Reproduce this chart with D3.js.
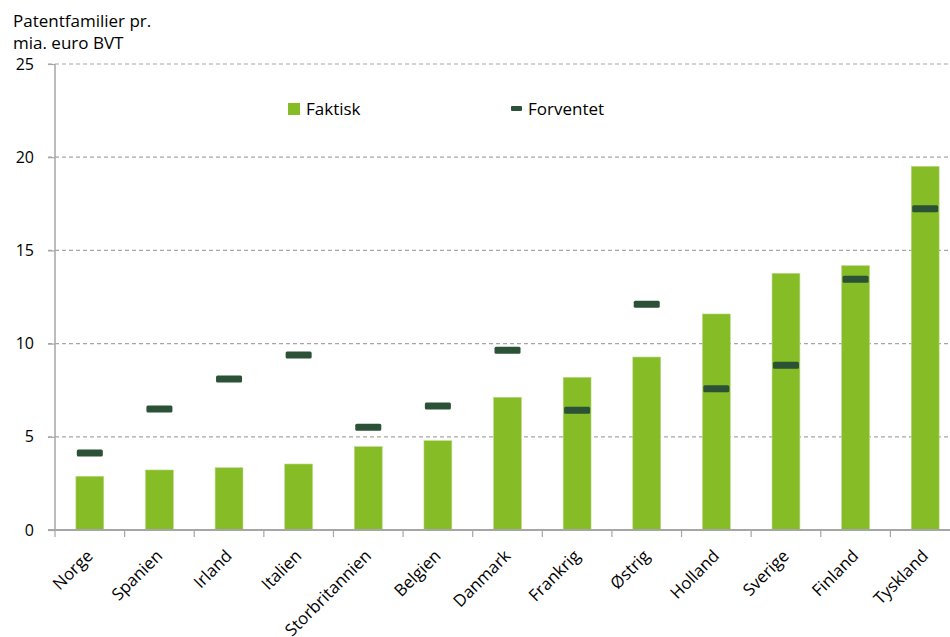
<!DOCTYPE html>
<html>
<head>
<meta charset="utf-8">
<script src="https://cdn.jsdelivr.net/npm/d3@7/dist/d3.min.js"></script>
<style>
  html, body { margin: 0; padding: 0; background: #fff; }
  svg { display: block; font-family: "Open Sans", "Noto Sans", sans-serif; }
</style>
</head>
<body>
<svg id="chart" width="950" height="637"></svg>
<script>
// Patent families per billion euro GDP, actual vs. expected
const countries = ["Norge", "Spanien", "Irland", "Italien", "Storbritannien", "Belgien",
  "Danmark", "Frankrig", "Østrig", "Holland", "Sverige", "Finland", "Tyskland"];
const faktisk   = [2.88, 3.22, 3.34, 3.54, 4.47, 4.79, 7.12, 8.19, 9.28, 11.59, 13.77, 14.18, 19.51];
const forventet = [4.13, 6.49, 8.10, 9.39, 5.51, 6.65, 9.64, 6.42, 12.11, 7.58, 8.84, 13.45, 17.24];
const yTicks = [0, 5, 10, 15, 20, 25];
const titleLines = ["Patentfamilier pr.", "mia. euro BVT"];
const legendLabels = ["Faktisk", "Forventet"];

const barColor = "#86bc25";
const markColor = "#2b5236";
const axisColor = "#a6a6a6";

const svg = d3.select("#chart");
const plotLeft = 55, plotRight = 960, plotTop = 64, plotBottom = 530;

const x = d3.scaleBand().domain(countries).range([plotLeft, plotRight]).paddingInner(0.6).paddingOuter(0.3);
const xb = d3.scaleBand().domain(countries).range([plotLeft, plotRight]);
const y = d3.scaleLinear().domain([0, 25]).range([plotBottom, plotTop]);

// Gridlines
svg.append("g").selectAll("line").data(yTicks.filter(d => d > 0)).join("line")
  .attr("x1", plotLeft - 7).attr("x2", 950)
  .attr("y1", d => y(d)).attr("y2", d => y(d))
  .attr("stroke", axisColor).attr("stroke-width", 1.2).attr("stroke-dasharray", "4,3");

// Bars
svg.append("g").selectAll("rect").data(countries).join("rect")
  .attr("x", d => x(d))
  .attr("y", (d, i) => y(faktisk[i]))
  .attr("width", x.bandwidth())
  .attr("height", (d, i) => y(0) - y(faktisk[i]))
  .attr("fill", barColor)
  .attr("stroke", "#b8d886").attr("stroke-width", 0.6);

// Expected-value markers
const mw = 26, mh = 7;
svg.append("g").selectAll("rect").data(countries).join("rect")
  .attr("x", d => xb(d) + xb.bandwidth() / 2 - mw / 2)
  .attr("y", (d, i) => y(forventet[i]) - mh / 2)
  .attr("width", mw).attr("height", mh).attr("rx", 1.5)
  .attr("fill", markColor);

// Y axis
const yAxis = svg.append("g").attr("transform", `translate(${plotLeft},0)`)
  .call(d3.axisLeft(y).tickValues(yTicks).tickSize(7).tickPadding(14).tickFormat(d3.format("d")));
yAxis.select(".domain").attr("stroke", axisColor).attr("stroke-width", 1.5).attr("d", `M0,${plotTop}V${plotBottom}`);
yAxis.selectAll(".tick line").attr("stroke", axisColor).attr("stroke-width", 1.2);
yAxis.selectAll(".tick text").attr("font-size", 16).attr("fill", "#000").attr("font-family", "Open Sans");

// X axis
const xAxis = svg.append("g").attr("transform", `translate(0,${plotBottom})`)
  .call(d3.axisBottom(xb).tickValues([]).tickSizeOuter(0));
xAxis.select(".domain").attr("stroke", axisColor).attr("stroke-width", 2.2).attr("d", `M${plotLeft - 7},0H950`);
svg.append("g").selectAll("line").data(countries).join("line")
  .attr("x1", d => xb(d)).attr("x2", d => xb(d))
  .attr("y1", plotBottom).attr("y2", plotBottom + 7)
  .attr("stroke", axisColor).attr("stroke-width", 1.2);
svg.append("g").selectAll("text").data(countries).join("text")
  .attr("transform", d => `translate(${xb(d) + xb.bandwidth() / 2 + 4},${plotBottom + 27}) rotate(-45)`)
  .attr("text-anchor", "end")
  .attr("font-size", 16.8)
  .attr("fill", "#000")
  .text(d => d);

// Title
svg.append("g").selectAll("text").data(titleLines).join("text")
  .attr("x", 13).attr("y", (d, i) => 27 + i * 22)
  .attr("font-size", 17).attr("fill", "#000")
  .text(d => d);

// Legend
const lg = svg.append("g");
lg.append("rect").attr("x", 288).attr("y", 103).attr("width", 12).attr("height", 12).attr("fill", barColor);
lg.append("text").attr("x", 306).attr("y", 115).attr("font-size", 17).text(legendLabels[0]);
lg.append("rect").attr("x", 511).attr("y", 106).attr("width", 11).attr("height", 5).attr("rx", 1).attr("fill", markColor);
lg.append("text").attr("x", 528).attr("y", 115).attr("font-size", 17).text(legendLabels[1]);
</script>
</body>
</html>
